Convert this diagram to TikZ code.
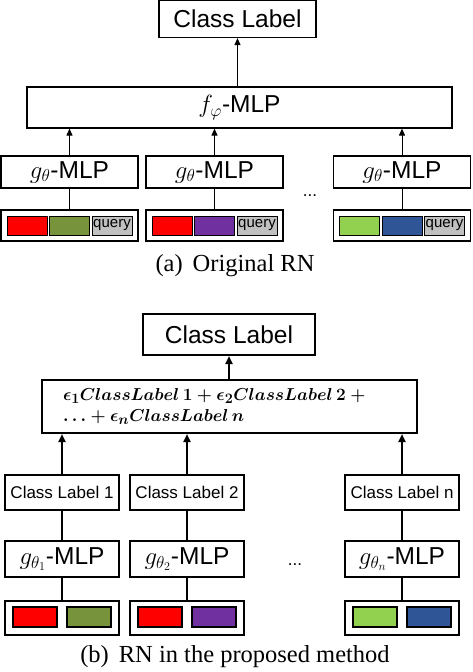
\documentclass[tikz,border=0pt]{standalone}
\usepackage{amsmath}
\usepackage{fontspec}
\setmainfont{Liberation Serif}
\newfontfamily\arialfont{Liberation Sans}
\usetikzlibrary{arrows.meta}
\definecolor{cred}{HTML}{FF0000}
\definecolor{colive}{HTML}{77933C}
\definecolor{cpurple}{HTML}{7030A0}
\definecolor{clime}{HTML}{92D050}
\definecolor{cblue}{HTML}{2F5597}
\definecolor{cquery}{HTML}{C0C0C0}
\tikzset{
  boxa/.style={draw, line width=1.2pt, inner sep=0pt, font=\arialfont\fontsize{24.5}{28}\selectfont},
  boxb/.style={draw, line width=2pt, inner sep=0pt, font=\arialfont\fontsize{24.5}{28}\selectfont},
  cella/.style={draw, line width=0.9pt, inner sep=0pt, minimum width=40pt, minimum height=19pt},
  cellb/.style={draw, line width=1.8pt, inner sep=0pt, minimum width=44pt, minimum height=20pt},
  arra/.style={line width=1pt, -{Triangle[width=6pt,length=7pt]}},
  arrb/.style={line width=2pt, -{Triangle[width=7pt,length=8pt]}},
  caption/.style={font=\fontsize{24.5}{28}\selectfont},
}
\begin{document}
\begin{tikzpicture}[x=1pt,y=-1pt]
\useasboundingbox (0,0) rectangle (472,672);
% (a) original RN
\node [boxa, minimum width=157pt, minimum height=37pt] (toplabel) at (237.5,19) {Class Label};
\node [boxa, minimum width=425pt, minimum height=41pt] (fmlp) at (239.5,107.5) {$f_{\varphi}$-MLP};
\node [boxa, minimum width=137pt, minimum height=32pt] (ga1) at (69.5,172) {$g_{\theta}$-MLP};
\node [boxa, minimum width=137pt, minimum height=32pt] (ga2) at (214.5,172) {$g_{\theta}$-MLP};
\node [boxa, minimum width=137pt, minimum height=32pt] (ga3) at (402,172) {$g_{\theta}$-MLP};
\node [boxa, minimum width=137pt, minimum height=31pt] (ina1) at (69.5,225.5) {};
\node [boxa, minimum width=137pt, minimum height=31pt] (ina2) at (214.5,225.5) {};
\node [boxa, minimum width=137pt, minimum height=31pt] (ina3) at (402,225.5) {};
\node [cella, fill=cred] (ra1) at (27,225.5) {};
\node [cella, fill=colive] (oa1) at (69.5,225.5) {};
\node [cella, fill=cquery, font=\arialfont\fontsize{15}{16}\selectfont] (qa1) at (112,225.5) {query};
\node [cella, fill=cred] (ra2) at (172,225.5) {};
\node [cella, fill=cpurple] (pa2) at (214.5,225.5) {};
\node [cella, fill=cquery, font=\arialfont\fontsize{15}{16}\selectfont] (qa2) at (257,225.5) {query};
\node [cella, fill=clime] (la3) at (359.5,225.5) {};
\node [cella, fill=cblue] (ba3) at (402,225.5) {};
\node [cella, fill=cquery, font=\arialfont\fontsize{15}{16}\selectfont] (qa3) at (444.5,225.5) {query};
\node [font=\arialfont\fontsize{17}{18}\selectfont] (dotsa) at (310,196) {...};
\draw [arra] (fmlp.north -| toplabel) -- (toplabel.south);
\draw [arra] (ga1.north) -- (ga1.north |- fmlp.south);
\draw [arra] (ga2.north) -- (ga2.north |- fmlp.south);
\draw [arra] (ga3.north) -- (ga3.north |- fmlp.south);
\draw [line width=1.2pt] (ina1) -- (ga1);
\draw [line width=1pt] (ina2) -- (ga2);
\draw [line width=1pt] (ina3) -- (ga3);
\node [caption] (capa) at (235,266) {(a)\hspace{10pt}Original RN};
% (b) proposed RN
\node [boxb, minimum width=172pt, minimum height=41pt] (botlabel) at (229,334.5) {Class Label};
\node [boxb, minimum height=53pt, text width=333pt, inner xsep=21pt, align=left,
       font=\fontsize{19}{21}\selectfont\boldmath] (sum) at (229.5,406.5)
  {\mbox{$\epsilon_1 ClassLabel\,1+\epsilon_2 ClassLabel\,2+{}$}\\\mbox{$\ldots+\epsilon_n ClassLabel\,n$}};
\node [boxb, minimum width=114pt, minimum height=35pt, font=\arialfont\fontsize{17}{18}\selectfont] (cl1) at (62,492.5) {Class Label 1};
\node [boxb, minimum width=114pt, minimum height=35pt, font=\arialfont\fontsize{17}{18}\selectfont] (cl2) at (187,492.5) {Class Label 2};
\node [boxb, minimum width=114pt, minimum height=35pt, font=\arialfont\fontsize{17}{18}\selectfont] (cl3) at (402,492.5) {Class Label n};
\node [boxb, minimum width=114pt, minimum height=36pt] (gb1) at (62,559) {$g_{\theta_1}$-MLP};
\node [boxb, minimum width=114pt, minimum height=36pt] (gb2) at (187,559) {$g_{\theta_2}$-MLP};
\node [boxb, minimum width=114pt, minimum height=36pt] (gb3) at (402,559) {$g_{\theta_n}$-MLP};
\node [boxb, minimum width=114pt, minimum height=34pt] (inb1) at (62,618) {};
\node [boxb, minimum width=114pt, minimum height=34pt] (inb2) at (187,618) {};
\node [boxb, minimum width=114pt, minimum height=34pt] (inb3) at (402,618) {};
\node [cellb, fill=cred] (rb1) at (35,617) {};
\node [cellb, fill=colive] (ob1) at (89,617) {};
\node [cellb, fill=cred] (rb2) at (160,617) {};
\node [cellb, fill=cpurple] (pb2) at (214,617) {};
\node [cellb, fill=clime] (lb3) at (375,617) {};
\node [cellb, fill=cblue] (bb3) at (429,617) {};
\node [font=\arialfont\fontsize{17}{18}\selectfont] (dotsb) at (295,565) {...};
\draw [arrb] (sum.north -| botlabel) -- (botlabel.south);
\draw [arrb] (cl1.north) -- (cl1.north |- sum.south);
\draw [arrb] (cl2.north) -- (cl2.north |- sum.south);
\draw [arrb] (cl3.north) -- (cl3.north |- sum.south);
\draw [line width=2pt] (gb1) -- (cl1);
\draw [line width=2pt] (gb2) -- (cl2);
\draw [line width=1.5pt] (gb3) -- (cl3);
\draw [line width=2pt] (inb1) -- (gb1);
\draw [line width=2pt] (inb2) -- (gb2);
\draw [line width=1.5pt] (inb3) -- (gb3);
\node [caption] (capb) at (235,657) {(b)\hspace{10pt}RN in the proposed method};
\end{tikzpicture}
\end{document}
